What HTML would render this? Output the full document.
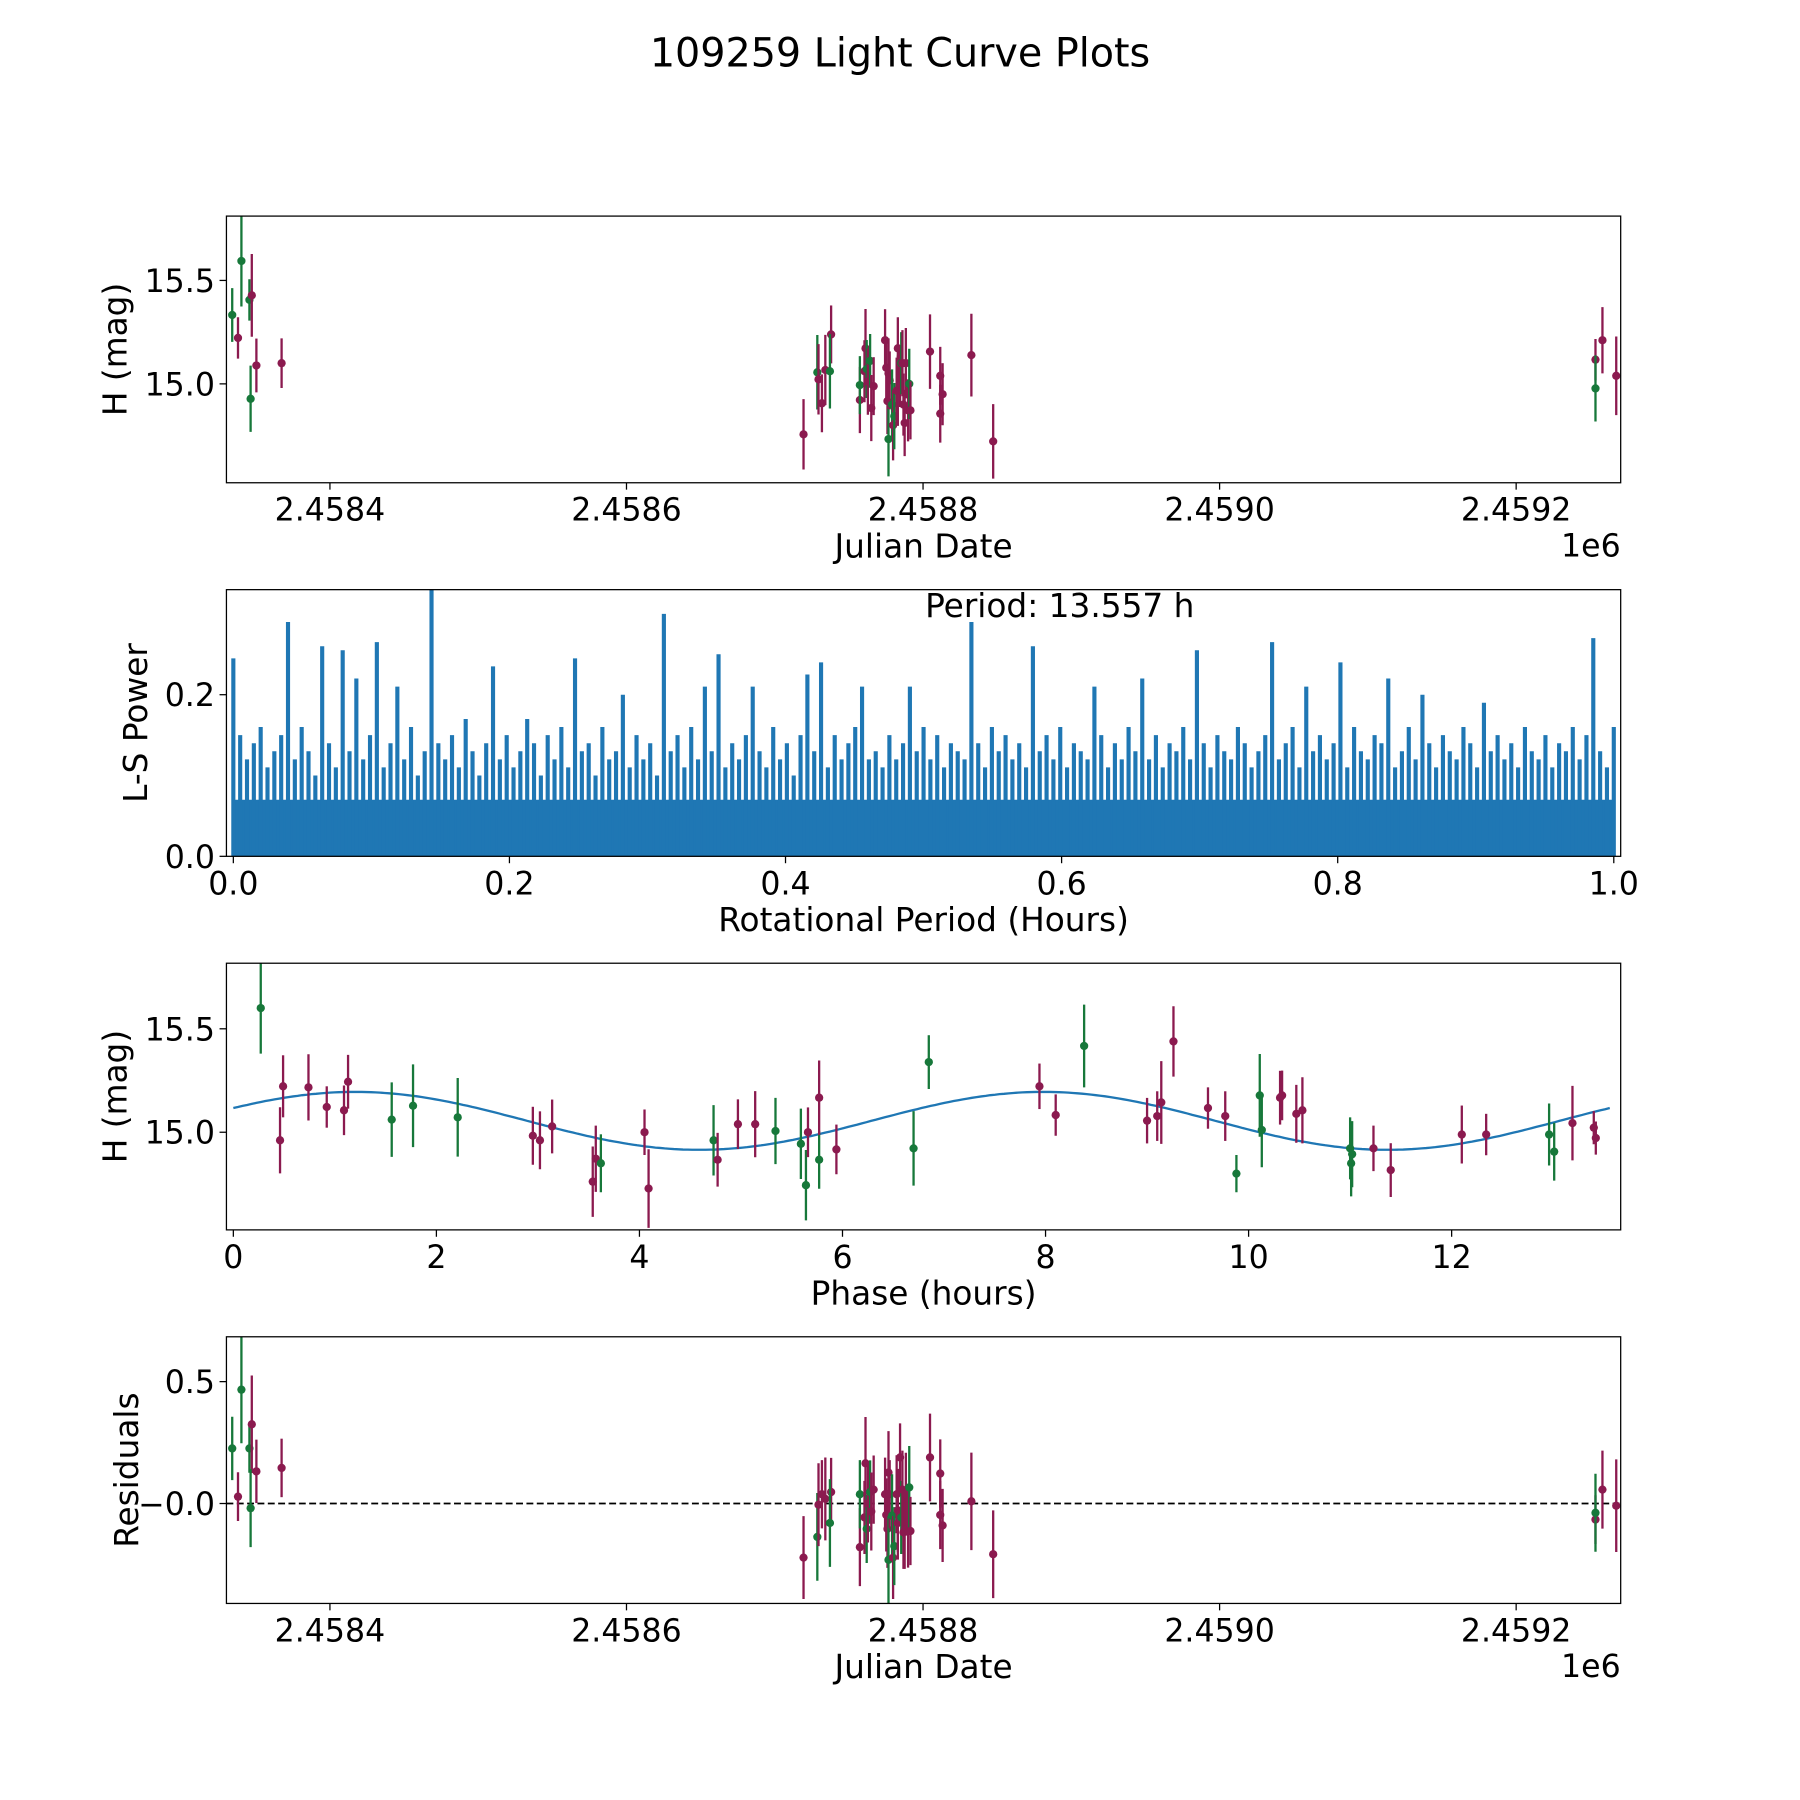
<!DOCTYPE html>
<html><head><meta charset="utf-8"><style>
html,body{margin:0;padding:0;background:#fff}
svg{display:block;font-family:"DejaVu Sans","Liberation Sans",sans-serif}
</style></head><body>
<svg id="fig" width="1800" height="1800" viewBox="0 0 1566 1566" xmlns="http://www.w3.org/2000/svg">
<rect width="1566" height="1566" fill="#fff"/>
<text x="783" y="58" font-size="34.5" text-anchor="middle">109259 Light Curve Plots</text>
</svg>
<script>
const G='#17783a', P='#8b1a4f';
const lcJD=[2458334.1,2458338,2458340.3,2458345.7,2458347.3,2458346.5,2458350.4,2458367.4,
2458719.4,2458728.7,2458729.5,2458731.8,2458734.1,2458738.0,2458737.2,2458757.4,2458757.4,2458761.2,2458760.5,2458762.0,2458762.8,2458764.3,2458765.1,2458766.7,2458774.4,2458775.2,2458776.0,2458776.7,2458776.7,2458777.5,2458779.1,2458779.8,2458780.6,2458782.2,2458783.0,2458783.0,2458784.5,2458785.3,2458786.1,2458786.8,2458787.6,2458788.4,2458789.9,2458790.7,2458791.5,2458804.7,2458811.6,2458811.6,2458813.2,2458832.6,2458847.3,
2459253.5,2459253.5,2459258.2,2459267.5];
const lcMag=[15.333,15.222,15.594,15.406,15.428,14.928,15.089,15.1,
14.756,15.056,15.022,14.906,15.067,15.239,15.061,14.922,14.994,15.172,15.061,15.072,15.011,15.111,14.883,14.989,15.211,15.078,14.917,14.733,15.05,15.017,14.9,14.8,14.844,14.967,15.172,14.967,15.028,15.1,15.1,14.9,14.811,15.1,14.872,15.0,14.872,15.156,15.039,14.856,14.95,15.139,14.722,
15.117,14.978,15.211,15.039];
const lcErr=[0.13,0.1,0.22,0.1,0.2,0.16,0.13,0.12,
0.17,0.18,0.17,0.14,0.17,0.14,0.18,0.16,0.14,0.19,0.15,0.14,0.16,0.13,0.16,0.14,0.15,0.15,0.16,0.18,0.17,0.14,0.17,0.17,0.16,0.16,0.15,0.17,0.14,0.15,0.16,0.15,0.16,0.17,0.15,0.17,0.14,0.18,0.14,0.14,0.15,0.2,0.18,
0.1,0.16,0.16,0.19];
const lcCol='gpggpgpp'+'pgppppgpgppgpgpppppgppgpgppppgpppppgppppppppp'.slice(0,43)+'pgpp';
const resid=[0.226,0.028,0.467,0.226,0.325,-0.019,0.132,0.146,
-0.222,-0.137,-0.005,0.038,0.019,0.047,-0.08,-0.179,0.038,0.165,-0.057,-0.104,0,0.047,-0.033,0.057,0.038,-0.047,-0.104,-0.231,0.127,0.038,-0.05,-0.222,-0.175,0.038,-0.08,-0.028,0.189,-0.057,0.057,-0.118,-0.108,0.038,-0.113,0.066,-0.113,0.189,0.123,-0.047,-0.09,0.009,-0.208,
-0.066,-0.038,0.057,-0.009];
const phX=[0.27,0.49,0.46,0.74,0.92,1.09,1.13,1.56,1.77,2.21,2.95,3.02,3.14,3.54,3.57,3.62,4.05,4.09,4.73,4.77,4.97,5.14,5.34,5.59,5.64,5.66,5.77,5.77,5.94,6.70,6.85,7.94,8.10,8.38,9.0,9.10,9.14,9.26,9.60,9.77,9.88,10.11,10.13,10.31,10.33,10.47,10.53,11.0,11.01,11.02,11.23,11.40,12.1,12.34,12.96,13.01,13.19,13.40,13.42];
const phMag=[15.6,15.222,14.961,15.217,15.122,15.106,15.244,15.061,15.128,15.072,14.983,14.961,15.028,14.761,14.872,14.85,15.0,14.728,14.961,14.867,15.039,15.039,15.006,14.944,14.744,15.0,14.867,15.167,14.917,14.922,15.339,15.222,15.083,15.417,15.056,15.078,15.144,15.439,15.117,15.078,14.8,15.178,15.011,15.167,15.178,15.089,15.106,14.922,14.85,14.894,14.922,14.817,14.989,14.989,14.989,14.906,15.044,15.022,14.972];
const phErr=[0.22,0.15,0.16,0.16,0.1,0.12,0.13,0.18,0.2,0.19,0.14,0.14,0.13,0.17,0.16,0.14,0.11,0.19,0.17,0.13,0.12,0.16,0.16,0.17,0.17,0.12,0.14,0.18,0.12,0.18,0.13,0.11,0.1,0.2,0.11,0.12,0.2,0.17,0.1,0.12,0.09,0.2,0.18,0.13,0.12,0.14,0.16,0.15,0.16,0.16,0.11,0.13,0.14,0.1,0.15,0.14,0.18,0.08,0.08];
const phCol='gpppppp'+'ggg'+'pppppg'+'pp'+'gp'+'pp'+'gggpgpp'+'gg'+'ppgpppppp'+'ggg'+'pppp'+'ggg'+'pp'+'pp'+'gg'+'ppp';
const fitMean=15.055, fitAmp=0.14, fitPeak=1.2, fitPeriod=13.557;
const lsPower=[0.245,0.15,0.12,0.14,0.16,0.11,0.13,0.15,0.29,0.12,0.16,0.13,0.1,0.26,0.14,0.11,0.255,0.13,0.22,0.12,0.15,0.265,0.11,0.14,0.21,0.12,0.16,0.1,0.13,0.33,0.14,0.12,0.15,0.11,0.17,0.13,0.1,0.14,0.235,0.12,0.15,0.11,0.13,0.17,0.14,0.1,0.15,0.12,0.16,0.11,0.245,0.13,0.14,0.1,0.16,0.12,0.13,0.2,0.11,0.15,0.12,0.14,0.1,0.30,0.13,0.15,0.11,0.16,0.12,0.21,0.13,0.25,0.11,0.14,0.12,0.15,0.21,0.13,0.11,0.16,0.12,0.14,0.1,0.15,0.225,0.13,0.24,0.11,0.15,0.12,0.14,0.16,0.21,0.12,0.13,0.11,0.15,0.12,0.14,0.21,0.13,0.16,0.12,0.15,0.11,0.14,0.13,0.12,0.29,0.14,0.11,0.16,0.13,0.15,0.12,0.14,0.11,0.26,0.13,0.15,0.12,0.16,0.11,0.14,0.13,0.12,0.21,0.15,0.11,0.14,0.12,0.16,0.13,0.22,0.12,0.15,0.11,0.14,0.13,0.16,0.12,0.255,0.14,0.11,0.15,0.13,0.12,0.16,0.14,0.11,0.13,0.15,0.265,0.12,0.14,0.16,0.11,0.21,0.13,0.15,0.12,0.14,0.24,0.11,0.16,0.13,0.12,0.15,0.14,0.22,0.11,0.13,0.16,0.12,0.2,0.14,0.11,0.15,0.13,0.12,0.16,0.14,0.11,0.19,0.13,0.15,0.12,0.14,0.11,0.16,0.13,0.12,0.15,0.11,0.14,0.13,0.16,0.12,0.15,0.27,0.13,0.11,0.16];
const lsFloor=0.07;
const periodText='Period: 13.557 h';
const jdTicks=[2458400,2458600,2458800,2459000,2459200];
const jdTickLabels=['2.4584','2.4586','2.4588','2.4590','2.4592'];
const magTicks=[15.0,15.5], magTickLabels=['15.0','15.5'];
const lsXTicks=[0,0.2,0.4,0.6,0.8,1.0], lsXTickLabels=['0.0','0.2','0.4','0.6','0.8','1.0'];
const lsYTicks=[0,0.2], lsYTickLabels=['0.0','0.2'];
const phTicks=[0,2,4,6,8,10,12], phTickLabels=['0','2','4','6','8','10','12'];
const resTicks=[0,0.5], resTickLabels=['\u22120.0','0.5'];

const NS='http://www.w3.org/2000/svg';
const svg=document.getElementById('fig');
function mk(tag,attrs,parent){const e=document.createElementNS(NS,tag);for(const k in attrs)e.setAttribute(k,attrs[k]);(parent||svg).appendChild(e);return e;}
const L=197,R=1410;
function makeAxis(name,top,bottom,xmin,xmax,ymin,ymax){
  const g=mk('g',{});
  
  
  const cp=mk('clipPath',{id:'c-'+name},g);mk('rect',{x:L,y:top,width:R-L,height:bottom-top},cp);
  const plot=mk('g',{'clip-path':'url(#c-'+name+')'},g);
  
  
  return {g,plot,top,bottom,x:v=>L+(v-xmin)/(xmax-xmin)*(R-L),y:v=>bottom-(v-ymin)/(ymax-ymin)*(bottom-top)};
}
function frame(ax,xt,xl,yt,yl,xlabel,ylabel,ylx){
  const f=mk('rect',{x:L,y:ax.top,width:R-L,height:ax.bottom-ax.top,fill:'none',stroke:'#000','stroke-width':1.1},ax.g);
  
  
  xt.forEach((v,i)=>{const X=ax.x(v);mk('line',{x1:X,x2:X,y1:ax.bottom,y2:ax.bottom+6,stroke:'#000','stroke-width':1.1},ax.g);
    const t=mk('text',{x:X,y:ax.bottom+33,'font-size':27.5,'text-anchor':'middle'},ax.g);t.textContent=xl[i];
    
    });
  yt.forEach((v,i)=>{const Y=ax.y(v);mk('line',{x1:L-6,x2:L,y1:Y,y2:Y,stroke:'#000','stroke-width':1.1},ax.g);
    const t=mk('text',{x:L-10,y:Y+10,'font-size':27.5,'text-anchor':'end'},ax.g);t.textContent=yl[i];
    
    });
  const xt2=mk('text',{x:(L+R)/2,y:ax.bottom+65,'font-size':28.5,'text-anchor':'middle'},ax.g);xt2.textContent=xlabel;
  
  
  const cy=(ax.top+ax.bottom)/2;
  const yt2=mk('text',{x:ylx,y:cy,'font-size':28.5,'text-anchor':'middle',transform:'rotate(-90 '+ylx+' '+cy+')'},ax.g);yt2.textContent=ylabel;
  
  
}
function points(ax,xs,ys,errs,cols){
  xs.forEach((xv,i)=>{const c=cols[i]==='g'?G:P;const X=ax.x(xv),Y=ax.y(ys[i]);
    const e=errs?errs[i]:0.12;
    const ln=mk('line',{x1:X,x2:X,y1:ax.y(ys[i]+e),y2:ax.y(ys[i]-e),stroke:c,'stroke-width':2},ax.plot);
    
    
    const d=mk('circle',{cx:X,cy:Y,r:3.6,fill:c},ax.plot);
    
    });
}
function oneE6(ax){const t=mk('text',{x:R,y:ax.bottom+64,'font-size':27.5,'text-anchor':'end'},ax.g);t.textContent='1e6';
  
  }

const a1=makeAxis('light-curve-panel',188,420,2458330.2,2459270.5,14.522,15.811);
points(a1,lcJD,lcMag,lcErr,lcCol);
frame(a1,jdTicks,jdTickLabels,magTicks,magTickLabels,'Julian Date','H (mag)',110);oneE6(a1);

const a2=makeAxis('periodogram-panel',513,745,-0.005,1.005,0,0.33);
const fl=mk('rect',{x:a2.x(0),y:a2.y(lsFloor),width:a2.x(1)-a2.x(0),height:a2.y(0)-a2.y(lsFloor),fill:'#1f77b4'},a2.plot);


let pd='';
lsPower.forEach((v,i)=>{const X=a2.x(i/(lsPower.length-1));pd+='M'+X+' '+a2.y(0)+'V'+a2.y(v);});
const pp=mk('path',{d:pd,stroke:'#1f77b4','stroke-width':3.6,fill:'none'},a2.plot);


frame(a2,lsXTicks,lsXTickLabels,lsYTicks,lsYTickLabels,'Rotational Period (Hours)','L-S Power',128);
const pt=mk('text',{x:922,y:537,'font-size':28.5,'text-anchor':'middle'},a2.g);pt.textContent=periodText;



const a3=makeAxis('phase-panel',838,1070,-0.068,13.665,14.528,15.817);
let fd='';for(let k=0;k<=300;k++){const ph=fitPeriod*k/300;const m=fitMean+fitAmp*Math.cos(2*Math.PI*(ph-fitPeak)/(fitPeriod/2));fd+=(k?'L':'M')+a3.x(ph).toFixed(1)+' '+a3.y(m).toFixed(1);}
const fc=mk('path',{d:fd,stroke:'#1f77b4','stroke-width':2,fill:'none'},a3.plot);


points(a3,phX,phMag,phErr,phCol);
frame(a3,phTicks,phTickLabels,magTicks,magTickLabels,'Phase (hours)','H (mag)',110);

const a4=makeAxis('residuals-panel',1163,1395,2458330.2,2459270.5,-0.41,0.684);
const zl=mk('line',{x1:L,x2:R,y1:a4.y(0),y2:a4.y(0),stroke:'#000','stroke-width':1.6,'stroke-dasharray':'6,3'},a4.plot);


points(a4,lcJD,resid,lcErr,lcCol);
frame(a4,jdTicks,jdTickLabels,resTicks,resTickLabels,'Julian Date','Residuals',120);oneE6(a4);
</script>
</body></html>
